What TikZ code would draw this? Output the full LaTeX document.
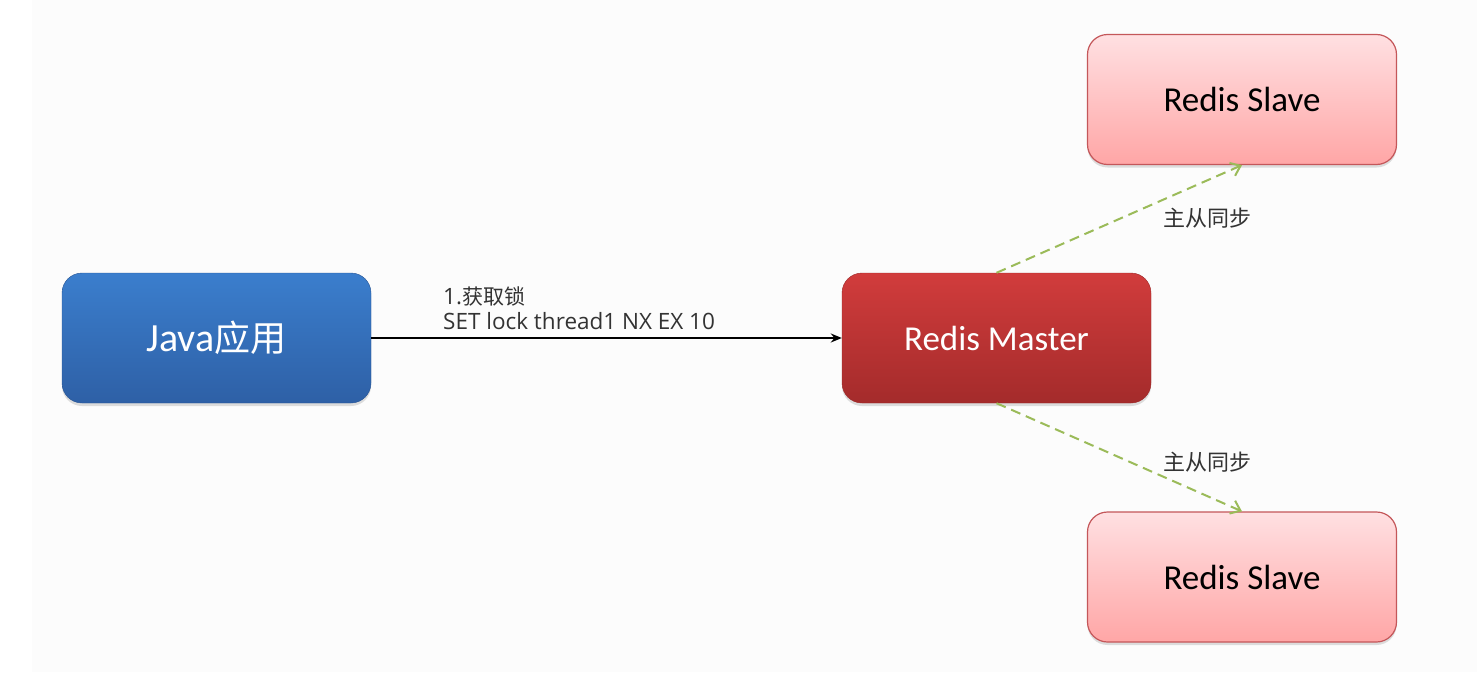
\documentclass[tikz,border=0pt]{standalone}
\usepackage{fontspec}
\setmainfont{Carlito}
\newfontfamily\cjk{Noto Sans CJK SC}
\newfontfamily\lat{Open Sans}
\usetikzlibrary{arrows.meta,shadows}
\definecolor{javatop}{HTML}{3B7ECD}
\definecolor{javabot}{HTML}{2E60A6}
\definecolor{mastop}{HTML}{D13C3C}
\definecolor{masbot}{HTML}{A42B2B}
\definecolor{slavetop}{HTML}{FFE0E2}
\definecolor{slavebot}{HTML}{FFA6A6}
\definecolor{slaveline}{HTML}{C4575A}
\definecolor{syncgreen}{HTML}{9BBB59}
\definecolor{labelgray}{HTML}{333333}
\definecolor{bggray}{HTML}{FCFCFC}
\begin{document}
\begin{tikzpicture}[x=1pt,y=-1pt,
  box/.style={rounded corners=20pt, minimum width=309pt, minimum height=130pt,
    inner sep=0pt, font=\fontsize{35}{40}\selectfont,
    drop shadow={opacity=0.25, shadow xshift=0pt, shadow yshift=-3pt}},
  javabox/.style={box, top color=javatop, bottom color=javabot, draw=javabot!90!black, text=white, font=\fontsize{40}{44}\selectfont},
  masterbox/.style={box, top color=mastop, bottom color=masbot, draw=masbot!95!black, text=white},
  slavebox/.style={box, top color=slavetop, bottom color=slavebot, draw=slaveline, line width=1.2pt, text=black},
  syncarrow/.style={draw=syncgreen, line width=2pt, dash pattern=on 10pt off 6pt, -{Straight Barb[length=9pt,width=14pt,line width=2pt]}},
  synclabel/.style={text=labelgray, font=\cjk\fontsize{22}{26}\selectfont},
  reqarrow/.style={draw=black, line width=1.8pt, -{Stealth[length=11pt,width=9pt]}},
  reqlabel/.style={text=labelgray, font=\cjk\fontsize{21}{25}\selectfont, align=left, anchor=west, inner sep=0pt}
]
\useasboundingbox (0,0) rectangle (1477,685);
\fill[white] (0,0) rectangle (1477,685);
\fill[bggray] (32,0) rectangle (1477,672);

\node[javabox] (java) at (216.5,338) {Java{\cjk\fontsize{36}{40}\selectfont 应用}};
\node[masterbox] (master) at (996.5,338) {Redis Master};
\node[slavebox] (slave1) at (1242,99.5) {Redis Slave};
\node[slavebox] (slave2) at (1242,577) {Redis Slave};

\draw[reqarrow] (java) -- (master);
\node[reqlabel] (req) at (443,308) {{\lat\fontsize{22.5}{25}\selectfont 1.}获取锁\\{\lat\fontsize{22.5}{25}\selectfont SET lock thread1 NX EX 10}};

\draw[syncarrow] (master.north) -- (slave1.south);
\draw[syncarrow] (master.south) -- (slave2.north);
\node[synclabel] (sync1) at (1207,218) {主从同步};
\node[synclabel] (sync2) at (1207,462) {主从同步};
\end{tikzpicture}
\end{document}
